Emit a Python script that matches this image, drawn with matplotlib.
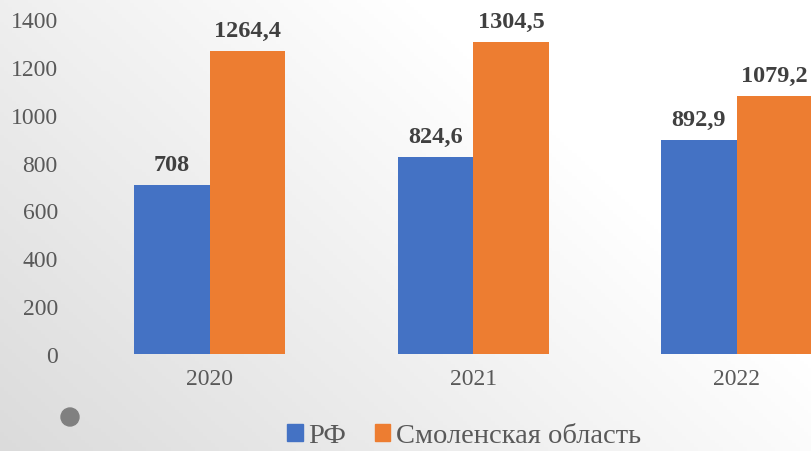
import matplotlib.pyplot as plt
import numpy as np
from matplotlib.patches import Patch, Ellipse

years = ["2020", "2021", "2022"]
rf_values = [708, 824.6, 892.9]
smolensk_values = [1264.4, 1304.5, 1079.2]
series_names = ["РФ", "Смоленская область"]
yticks = [0, 200, 400, 600, 800, 1000, 1200, 1400]

blue = "#4472c4"
orange = "#ed7d31"

plt.rcParams["font.family"] = "serif"
plt.rcParams["font.serif"] = ["Liberation Serif", "DejaVu Serif"]
FONT = "Liberation Serif"

W, H = 812, 452
fig = plt.figure(figsize=(W / 100, H / 100), dpi=100)

# background gradient: grey bottom-left to white top-right
bg = fig.add_axes([0, 0, 1, 1], zorder=-10)
xx, yy = np.meshgrid(np.linspace(0, 1, 200), np.linspace(0, 1, 120))
t = np.clip(xx * 0.9 + yy * 0.55, 0, 1)
shade = 0.86 + 0.14 * t
img = np.dstack([shade, shade, shade])
bg.imshow(img, extent=[0, 1, 0, 1], origin="lower", aspect="auto")
bg.set_xlim(0, 1)
bg.set_ylim(0, 1)
bg.set_axis_off()
bg.add_patch(Ellipse((70 / W, 1 - 418 / H), 18 / W, 18 / H, color="#808080"))

# axes: category spacing 263.5 px, first center at x=210
left = 78 / W
width = 3 * 263.5 / W
bottom = 1 - 355 / H
top = 1 - 20 / H
ax = fig.add_axes([left, bottom, width, top - bottom])
ax.patch.set_alpha(0)

x = np.arange(len(years))
bw = 0.2866
b1 = ax.bar(x - bw / 2, rf_values, bw, color=blue, label=series_names[0])
b2 = ax.bar(x + bw / 2, smolensk_values, bw, color=orange, label=series_names[1])

for bars, vals in [(b1, rf_values), (b2, smolensk_values)]:
    for rect, v in zip(bars, vals):
        ax.annotate(f"{v:g}".replace(".", ","),
                    (rect.get_x() + rect.get_width() / 2, v),
                    xytext=(0, 10), textcoords="offset pixels",
                    ha="center", va="bottom", fontsize=17.5, family=FONT,
                    fontweight="bold", color="#404040")

ax.set_xlim(-0.5, 2.5)
ax.set_ylim(0, 1400)
ax.set_yticks(yticks)
ax.set_yticklabels([str(v) for v in yticks], family=FONT)
ax.set_xticks(x)
ax.set_xticklabels(years, family=FONT)
ax.tick_params(axis="both", length=0, labelsize=17, colors="#595959")
ax.tick_params(axis="y", pad=14.5)
ax.tick_params(axis="x", pad=10)
for s in ax.spines.values():
    s.set_visible(False)

handles = [Patch(color=blue), Patch(color=orange)]
fig.legend(handles, series_names, loc="center", ncol=2,
           bbox_to_anchor=(464 / W, 1 - 437 / H), frameon=False,
           prop={"family": FONT, "size": 20.5}, handlelength=0.55,
           handleheight=0.55, handletextpad=0.2, columnspacing=1.0,
           labelcolor="#595959", borderpad=0)

fig.savefig("out.png", dpi=100)
